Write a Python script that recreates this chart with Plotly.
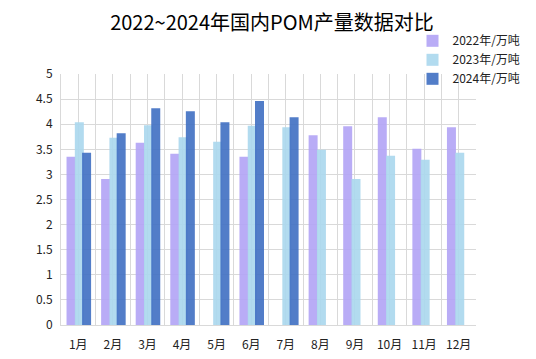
import plotly.graph_objects as go

months = ["1月", "2月", "3月", "4月", "5月", "6月", "7月", "8月", "9月", "10月", "11月", "12月"]
v2022 = [3.35, 2.91, 3.63, 3.41, None, 3.35, None, 3.78, 3.96, 4.14, 3.51, 3.94]
v2023 = [4.04, 3.73, 3.98, 3.74, 3.65, 3.97, 3.94, 3.49, 2.91, 3.37, 3.29, 3.43]
v2024 = [3.43, 3.82, 4.32, 4.26, 4.04, 4.46, 4.14, None, None, None, None, None]
series_names = ["2022年/万吨", "2023年/万吨", "2024年/万吨"]
yticks = [0, 0.5, 1, 1.5, 2, 2.5, 3, 3.5, 4, 4.5, 5]
ytick_text = ["0", "0.5", "1", "1.5", "2", "2.5", "3", "3.5", "4", "4.5", "5"]

xs = list(range(len(months)))
colors = ["#b4a6f6", "#acd8ee", "#4472c4"]
offsets = [-0.34, -0.1, 0.11]
width = 0.26

fig = go.Figure()
for name, vals, col, off in zip(series_names, [v2022, v2023, v2024], colors, offsets):
    fig.add_trace(go.Bar(
        x=xs, y=vals, name=name, width=width, offset=off,
        marker=dict(color=col, line=dict(width=0)), opacity=0.92,
    ))

fig.update_layout(
    width=528, height=351,
    barmode="overlay",
    margin=dict(l=53, r=60, t=66, b=34, autoexpand=False),
    paper_bgcolor="white", plot_bgcolor="white",
    font=dict(family="Noto Sans CJK SC, Microsoft YaHei, sans-serif", size=12, color="#222"),
    title=dict(text="2022~2024年国内POM产量数据对比", x=0.5, xanchor="center",
               y=0.958, yanchor="middle", font=dict(size=20, color="#000")),
    legend=dict(x=0.847, xanchor="left", y=1.19, yanchor="top",
                font=dict(size=12, color="#222"), tracegroupgap=0,
                itemsizing="constant", bgcolor="rgba(0,0,0,0)"),
    showlegend=True,
)
fig.update_xaxes(
    range=[-0.5, 11.5], tickmode="array", tickvals=xs, ticktext=months,
    showgrid=True, gridcolor="#d9d9d9", gridwidth=1,
    minor=dict(tick0=-0.5, dtick=1, showgrid=True, gridcolor="#d9d9d9", gridwidth=1),
    showline=True, linecolor="#d9d9d9", linewidth=1, mirror=False,
    ticks="", ticklabelstandoff=9, zeroline=False, fixedrange=True,
)
fig.update_yaxes(
    range=[0, 5], tickmode="array", tickvals=yticks, ticktext=ytick_text,
    showgrid=True, gridcolor="#d9d9d9", gridwidth=1,
    showline=True, linecolor="#d9d9d9", linewidth=1,
    ticks="", ticklabelstandoff=5, zeroline=False,
)
fig.write_html("out.html")
